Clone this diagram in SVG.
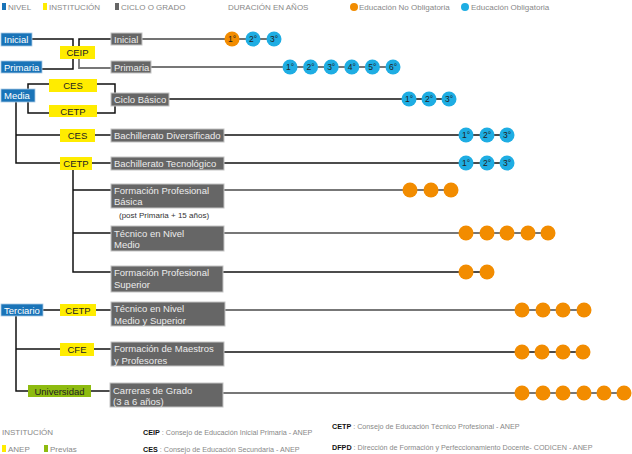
<svg xmlns="http://www.w3.org/2000/svg" width="632" height="454" viewBox="0 0 632 454">
<style>
text{font-family:"Liberation Sans",Arial,sans-serif}
.leg{font-size:8px;fill:#888}
.nivel{fill:#1a74b8;stroke:#a9c9e4;stroke-width:0.8}
.inst{fill:#ffec00}
.prev{fill:#8ebb10}
.ciclo{fill:#666;stroke:#c4c4c4;stroke-width:1}
.tw{font-size:9.5px;fill:#fff}
.tg{font-size:9.5px;fill:#ececec}
.tb{font-size:9.5px;fill:#222;text-anchor:middle}
.c{stroke:#111;stroke-width:1.5;fill:none}
.lk{stroke:#111;stroke-width:1.5;fill:none}
.lg{stroke:#777;stroke-width:1.8;fill:none}
.ld{stroke:#444;stroke-width:1.5;fill:none}
.o{fill:#f28c00}
.b{fill:#1eade3}
.d{font-size:8.5px;fill:#222;text-anchor:middle}
.ft{font-size:7.2px;fill:#888}
.ft tspan.k{fill:#111;font-weight:bold}
</style>

<g id="legend-top">
<rect x="2" y="3" width="4" height="7" fill="#1a74b8"/><text class="leg" x="8" y="10">NIVEL</text>
<rect x="43" y="3" width="4" height="7" fill="#ffec00"/><text class="leg" x="49" y="10">INSTITUCIÓN</text>
<rect x="115" y="3" width="4" height="7" fill="#666"/><text class="leg" x="121" y="10">CICLO O GRADO</text>
<text class="leg" x="228" y="10">DURACIÓN EN AÑOS</text>
<circle cx="354" cy="7" r="4" class="o"/><text class="leg" x="359" y="10">Educación No Obligatoria</text>
<circle cx="465" cy="7" r="4" class="b"/><text class="leg" x="471" y="10">Educación Obligatoria</text>
</g>

<g id="connectors">
<path class="c" d="M32,39 H73 V46"/>
<path class="c" d="M73,59 V69 H42"/>
<path class="c" d="M79,46 V39 H111"/>
<path class="lg" d="M79,59 V68 H111"/>
<path class="ld" d="M142,39 H274"/>
<path class="lg" d="M151,67 H393"/>
<path class="c" d="M28,89 V84 H49"/>
<path class="c" d="M97,84 H115 V113 H97"/>
<path class="c" d="M28,102 V113 H49"/>
<path class="lk" d="M169,99 H449"/>
<path class="c" d="M16,102 V163 H60"/>
<path class="c" d="M16,135 H60"/>
<path class="c" d="M95,135 H111"/>
<path class="lk" d="M224,135 H507"/>
<path class="c" d="M92,163 H111"/>
<path class="lk" d="M224,163 H507"/>
<path class="c" d="M73,170 V272 H111"/>
<path class="c" d="M73,190 H111"/>
<path class="c" d="M73,233 H111"/>
<path class="lg" d="M224,190 H451"/>
<path class="lg" d="M224,233 H548"/>
<path class="lk" d="M223,272 H487"/>
<path class="c" d="M43,310 H60"/>
<path class="c" d="M96,310 H111"/>
<path class="lg" d="M225,310 H584"/>
<path class="c" d="M16,316 V391 H28"/>
<path class="c" d="M16,349 H60"/>
<path class="c" d="M94,349 H111"/>
<path class="lk" d="M224,352 H583"/>
<path class="c" d="M91,391 H110"/>
<path class="lg" d="M223,393 H625" style="stroke-width:2.2"/>
</g>

<g id="n-inicial"><rect class="nivel" x="1" y="33" width="31" height="13"/><text class="tw" x="4" y="43">Inicial</text></g>
<g id="n-ceip"><rect class="inst" x="60" y="46" width="35" height="13"/><text class="tb" x="77.5" y="56">CEIP</text></g>
<g id="n-inicial-ciclo"><rect class="ciclo" x="111" y="33" width="31" height="12"/><text class="tg" x="114" y="43">Inicial</text></g>
<g id="d-inicial">
<circle cx="232" cy="39" r="7.5" class="o"/><text class="d" x="232" y="42">1°</text>
<circle cx="253" cy="39" r="7.5" class="b"/><text class="d" x="253" y="42">2°</text>
<circle cx="274" cy="39" r="7.5" class="b"/><text class="d" x="274" y="42">3°</text>
</g>

<g id="n-primaria"><rect class="nivel" x="1" y="61" width="41" height="12"/><text class="tw" x="4" y="71">Primaria</text></g>
<g id="n-primaria-ciclo"><rect class="ciclo" x="111" y="61" width="40" height="12"/><text class="tg" x="114" y="71">Primaria</text></g>
<g id="d-primaria">
<circle cx="290" cy="67" r="7.5" class="b"/><text class="d" x="290" y="70">1°</text>
<circle cx="310.6" cy="67" r="7.5" class="b"/><text class="d" x="310.6" y="70">2°</text>
<circle cx="331.2" cy="67" r="7.5" class="b"/><text class="d" x="331.2" y="70">3°</text>
<circle cx="351.8" cy="67" r="7.5" class="b"/><text class="d" x="351.8" y="70">4°</text>
<circle cx="372.4" cy="67" r="7.5" class="b"/><text class="d" x="372.4" y="70">5°</text>
<circle cx="393" cy="67" r="7.5" class="b"/><text class="d" x="393" y="70">6°</text>
</g>

<g id="n-media"><rect class="nivel" x="1" y="89" width="34" height="13"/><text class="tw" x="4" y="99">Media</text></g>
<g id="n-ces1"><rect class="inst" x="49" y="79" width="48" height="13"/><text class="tb" x="73" y="89">CES</text></g>
<g id="n-cetp1"><rect class="inst" x="49" y="105" width="48" height="12"/><text class="tb" x="73" y="115">CETP</text></g>
<g id="n-ciclo-basico"><rect class="ciclo" x="111" y="93" width="58" height="13"/><text class="tg" x="114" y="103">Ciclo Básico</text></g>
<g id="d-ciclo-basico">
<circle cx="409" cy="99" r="7.5" class="b"/><text class="d" x="409" y="102">1°</text>
<circle cx="429" cy="99" r="7.5" class="b"/><text class="d" x="429" y="102">2°</text>
<circle cx="449" cy="99" r="7.5" class="b"/><text class="d" x="449" y="102">3°</text>
</g>

<g id="n-ces2"><rect class="inst" x="60" y="129" width="35" height="13"/><text class="tb" x="77.5" y="139">CES</text></g>
<g id="n-bach-div"><rect class="ciclo" x="111" y="129" width="113" height="13"/><text class="tg" x="114" y="139">Bachillerato Diversificado</text></g>
<g id="d-bach-div">
<circle cx="466" cy="135" r="7.5" class="b"/><text class="d" x="466" y="138">1°</text>
<circle cx="487" cy="135" r="7.5" class="b"/><text class="d" x="487" y="138">2°</text>
<circle cx="507" cy="135" r="7.5" class="b"/><text class="d" x="507" y="138">3°</text>
</g>

<g id="n-cetp2"><rect class="inst" x="60" y="157" width="32" height="13"/><text class="tb" x="76" y="167">CETP</text></g>
<g id="n-bach-tec"><rect class="ciclo" x="111" y="157" width="113" height="13"/><text class="tg" x="114" y="167">Bachillerato Tecnológico</text></g>
<g id="d-bach-tec">
<circle cx="466" cy="163" r="7.5" class="b"/><text class="d" x="466" y="166">1°</text>
<circle cx="487" cy="163" r="7.5" class="b"/><text class="d" x="487" y="166">2°</text>
<circle cx="507" cy="163" r="7.5" class="b"/><text class="d" x="507" y="166">3°</text>
</g>

<g id="n-fp-basica"><rect class="ciclo" x="111" y="184" width="113" height="24"/><text class="tg" x="114" y="194">Formación Profesional</text><text class="tg" x="114" y="205">Básica</text>
<text x="119" y="218" style="font-size:8px;fill:#333">(post Primaria + 15 años)</text></g>
<g id="d-fp-basica">
<circle cx="410" cy="190" r="7.5" class="o"/><circle cx="431" cy="190" r="7.5" class="o"/><circle cx="451" cy="190" r="7.5" class="o"/>
</g>

<g id="n-tec-medio"><rect class="ciclo" x="111" y="226" width="113" height="25"/><text class="tg" x="114" y="237">Técnico en Nivel</text><text class="tg" x="114" y="248">Medio</text></g>
<g id="d-tec-medio">
<circle cx="466" cy="233" r="7.5" class="o"/><circle cx="487" cy="233" r="7.5" class="o"/><circle cx="507" cy="233" r="7.5" class="o"/><circle cx="528" cy="233" r="7.5" class="o"/><circle cx="548" cy="233" r="7.5" class="o"/>
</g>

<g id="n-fp-superior"><rect class="ciclo" x="111" y="266" width="112" height="26"/><text class="tg" x="114" y="276">Formación Profesional</text><text class="tg" x="114" y="288">Superior</text></g>
<g id="d-fp-superior">
<circle cx="466" cy="272" r="7.5" class="o"/><circle cx="487" cy="272" r="7.5" class="o"/>
</g>

<g id="n-terciario"><rect class="nivel" x="1" y="304" width="42" height="12"/><text class="tw" x="4" y="314">Terciario</text></g>
<g id="n-cetp3"><rect class="inst" x="60" y="304" width="36" height="12"/><text class="tb" x="78" y="314">CETP</text></g>
<g id="n-tec-medio-sup"><rect class="ciclo" x="111" y="302" width="114" height="24"/><text class="tg" x="114" y="312">Técnico en Nivel</text><text class="tg" x="114" y="324">Medio y Superior</text></g>
<g id="d-tec-medio-sup">
<circle cx="522" cy="310" r="7.5" class="o"/><circle cx="543" cy="310" r="7.5" class="o"/><circle cx="563" cy="310" r="7.5" class="o"/><circle cx="584" cy="310" r="7.5" class="o"/>
</g>

<g id="n-cfe"><rect class="inst" x="60" y="343" width="34" height="13"/><text class="tb" x="77" y="353">CFE</text></g>
<g id="n-maestros"><rect class="ciclo" x="111" y="342" width="113" height="24"/><text class="tg" x="114" y="352">Formación de Maestros</text><text class="tg" x="114" y="364">y Profesores</text></g>
<g id="d-maestros">
<circle cx="522" cy="352" r="7.5" class="o"/><circle cx="542" cy="352" r="7.5" class="o"/><circle cx="563" cy="352" r="7.5" class="o"/><circle cx="583" cy="352" r="7.5" class="o"/>
</g>

<g id="n-universidad"><rect class="prev" x="28" y="385" width="63" height="12"/><text class="tb" x="59.5" y="395">Universidad</text></g>
<g id="n-carreras"><rect class="ciclo" x="110" y="383" width="113" height="24"/><text class="tg" x="113" y="394">Carreras de Grado</text><text class="tg" x="113" y="405">(3 a 6 años)</text></g>
<g id="d-carreras">
<circle cx="522" cy="393" r="7.5" class="o"/><circle cx="543" cy="393" r="7.5" class="o"/><circle cx="563" cy="393" r="7.5" class="o"/><circle cx="584" cy="393" r="7.5" class="o"/><circle cx="604" cy="393" r="7.5" class="o"/><circle cx="624" cy="393" r="7.5" class="o"/>
</g>

<g id="legend-bottom">
<text class="leg" x="2" y="435">INSTITUCIÓN</text>
<rect x="2" y="445" width="4" height="7" fill="#ffec00"/><text class="leg" x="8" y="452">ANEP</text>
<rect x="44" y="445" width="4" height="7" fill="#8ebb10"/><text class="leg" x="50" y="452">Previas</text>
<text class="ft" x="143" y="435"><tspan class="k">CEIP</tspan> : Consejo de Educación Inicial Primaria - ANEP</text>
<text class="ft" x="143" y="452"><tspan class="k">CES</tspan> : Consejo de Educación Secundaria - ANEP</text>
<text class="ft" x="332" y="429"><tspan class="k">CETP</tspan> : Consejo de Educación Técnico Profesional - ANEP</text>
<text class="ft" x="332" y="450"><tspan class="k">DFPD</tspan> : Dirección de Formación y Perfeccionamiento Docente- CODICEN - ANEP</text>
</g>
</svg>
